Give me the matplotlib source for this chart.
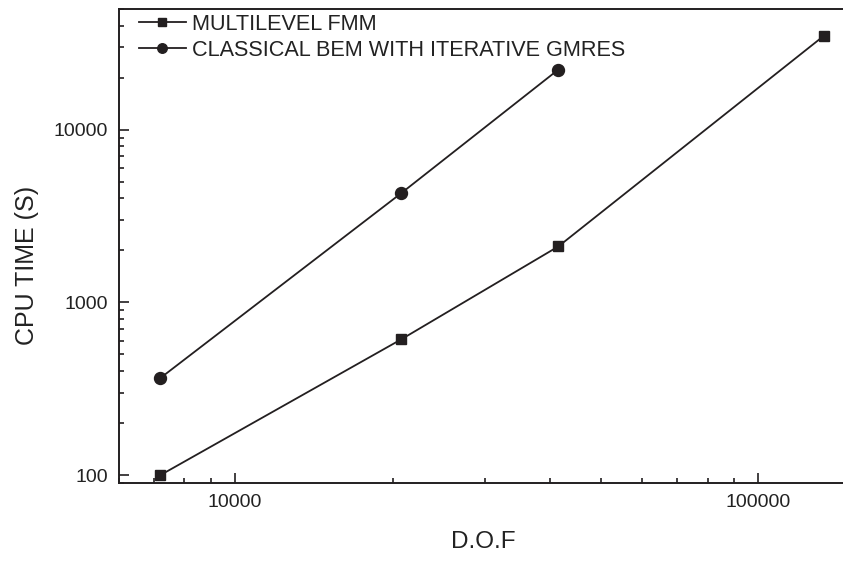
import matplotlib
matplotlib.use("Agg")
import matplotlib.pyplot as plt
from matplotlib.ticker import FixedLocator, FixedFormatter, NullFormatter, LogLocator

plt.rcParams['font.family'] = ['Liberation Sans', 'DejaVu Sans']

dof_fmm = [7200, 20800, 41500, 133700]
cpu_fmm = [100, 612, 2110, 35100]
dof_bem = [7200, 20800, 41500]
cpu_bem = [365, 4300, 22300]
label_fmm = "MULTILEVEL FMM"
label_bem = "CLASSICAL BEM WITH ITERATIVE GMRES"
xticks = [10000, 100000]
xticklabels = ["10000", "100000"]
yticks = [100, 1000, 10000]
yticklabels = ["100", "1000", "10000"]

W, H = 843, 561
fig = plt.figure(figsize=(W / 100, H / 100), dpi=100)
ax = fig.add_axes([119 / W, 78 / H, 746 / W, 474 / H])
col = '#231f20'
ax.plot(dof_fmm, cpu_fmm, '-', color=col, lw=1.3, marker='s', ms=7.6, label=label_fmm)
ax.plot(dof_bem, cpu_bem, '-', color=col, lw=1.3, marker='o', ms=8.6, label=label_bem)
ax.set_xscale('log')
ax.set_yscale('log')
ax.set_xlim(6000, 160000)
ax.set_ylim(90, 50000)

ax.xaxis.set_major_locator(FixedLocator(xticks))
ax.xaxis.set_major_formatter(FixedFormatter(xticklabels))
ax.yaxis.set_major_locator(FixedLocator(yticks))
ax.yaxis.set_major_formatter(FixedFormatter(yticklabels))
ax.xaxis.set_minor_locator(LogLocator(base=10, subs=range(2, 10)))
ax.yaxis.set_minor_locator(LogLocator(base=10, subs=range(2, 10)))
ax.xaxis.set_minor_formatter(NullFormatter())
ax.yaxis.set_minor_formatter(NullFormatter())

ax.tick_params(which='both', direction='in', top=False, right=False, color=col, width=1.2)
ax.tick_params(which='major', length=7, labelsize=14, pad=8, labelcolor='#222')
ax.tick_params(which='minor', length=3.8)
for s in ['left', 'bottom', 'top']:
    ax.spines[s].set_linewidth(1.4)
    ax.spines[s].set_color(col)
ax.spines['right'].set_visible(False)

fig.text(483 / W, 1 - 542 / H, "D.O.F", ha='center', va='center', fontsize=17.5, color='#222')
fig.text(27 / W, 1 - 265 / H, "CPU TIME (S)", ha='center', va='center', rotation=90, fontsize=18, color='#222')

leg = ax.legend(loc='upper left', bbox_to_anchor=(20 / 746, 1 - 5 / 474), frameon=False,
                fontsize=15.6, handlelength=2.15, handletextpad=0.3, labelspacing=0.22,
                borderaxespad=0, borderpad=0, markerscale=0.8)
for t in leg.get_texts():
    t.set_color('#222')

fig.savefig('out.png', dpi=100)
